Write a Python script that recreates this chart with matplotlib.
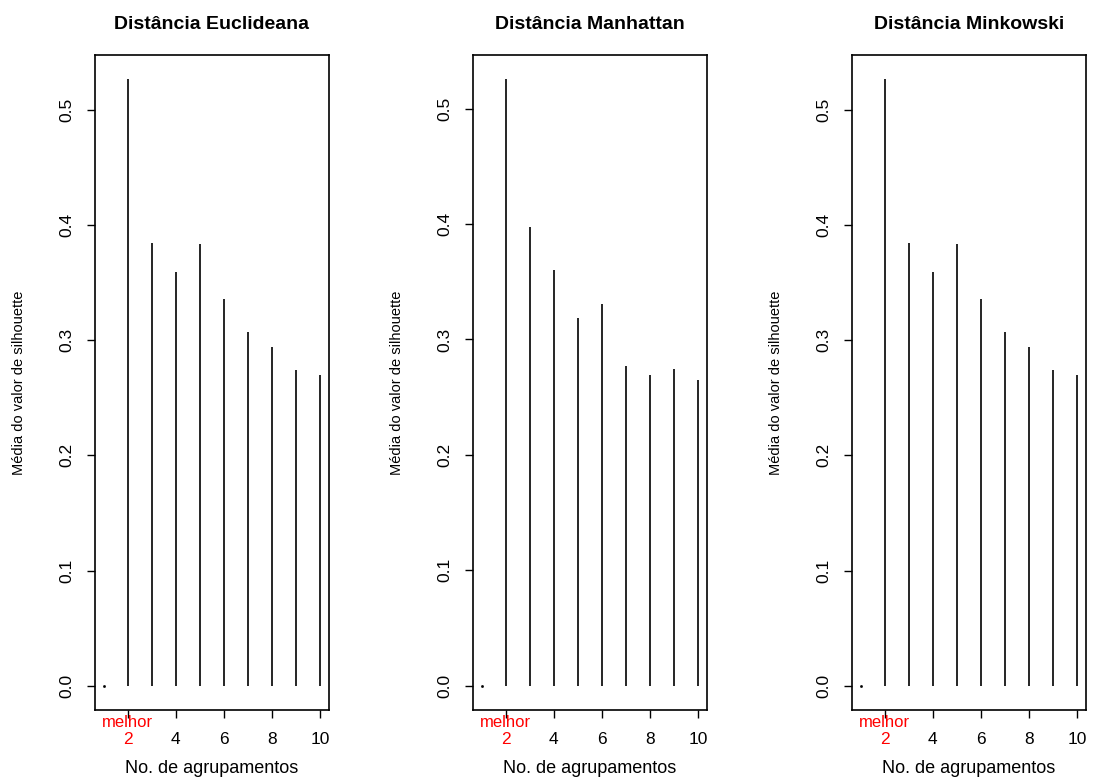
import numpy as np
import matplotlib
matplotlib.use("Agg")
import matplotlib.pyplot as plt

plt.rcParams['font.family'] = ['Liberation Sans', 'DejaVu Sans']

# numero de agrupamentos (k) e largura media da silhouette
k = [1, 2, 3, 4, 5, 6, 7, 8, 9, 10]
sil_euclid = [0.0, 0.5265, 0.3845, 0.3588, 0.3836, 0.3354, 0.3073, 0.2940, 0.2740, 0.2695]
sil_manhat = [0.0, 0.5254, 0.3972, 0.3602, 0.3186, 0.3307, 0.2772, 0.2693, 0.2743, 0.2645]
sil_minkow = [0.0, 0.5265, 0.3845, 0.3588, 0.3836, 0.3354, 0.3073, 0.2940, 0.2740, 0.2695]
titles = ["Distância Euclideana", "Distância Manhattan", "Distância Minkowski"]
series = [sil_euclid, sil_manhat, sil_minkow]
x_ticks = [2, 4, 6, 8, 10]
y_ticks = [0.0, 0.1, 0.2, 0.3, 0.4, 0.5]
best_k = 2

W, H = 1095, 778
fig = plt.figure(figsize=(W / 100, H / 100), dpi=100)

lefts = [95, 473, 852]
for left, title, vals in zip(lefts, titles, series):
    ax = fig.add_axes([left / W, (H - 710) / H, 234 / W, (710 - 55) / H])
    vals = np.array(vals)
    x = np.array(k)
    ax.vlines(x, 0, vals, colors='black', lw=1.2)
    ax.plot(x[vals == 0], vals[vals == 0], 's', color='black', ms=0.9)
    ax.set_xlim(0.64, 10.36)
    top = vals.max()
    ax.set_ylim(-0.04 * top, 1.04 * top)
    ax.set_xticks(x_ticks)
    ax.set_xticklabels([str(t) for t in x_ticks], fontsize=12.5)
    ax.set_yticks(y_ticks)
    ax.set_yticklabels(["%.1f" % t for t in y_ticks], fontsize=12.5, rotation=90, va='center')
    ax.tick_params(axis='both', length=6, width=1.0, direction='out')
    ax.tick_params(axis='x', pad=10)
    ax.tick_params(axis='y', pad=9)
    for lab, t in zip(ax.get_xticklabels(), x_ticks):
        if t == best_k:
            lab.set_color('red')
    for t_line, t in zip(ax.xaxis.get_ticklines(), [tt for tt in x_ticks for _ in (0, 1)]):
        if t == best_k:
            t_line.set_color('red')
    for sp in ax.spines.values():
        sp.set_linewidth(1.2)
    ax.annotate("melhor", xy=(best_k, 0), xycoords=('data', 'axes fraction'),
                xytext=(0, -9), textcoords='offset points', ha='center', va='center',
                color='red', fontsize=12)
    ax.annotate(title, xy=(0.5, 1), xycoords='axes fraction', xytext=(0, 22),
                textcoords='offset points', ha='center', va='center',
                fontsize=14, fontweight='bold')
    ax.annotate("No. de agrupamentos", xy=(0.5, 0), xycoords='axes fraction',
                xytext=(0, -42), textcoords='offset points', ha='center', va='center',
                fontsize=13)
    ax.annotate("Média do valor de silhouette", xy=(0, 0.5), xycoords='axes fraction',
                xytext=(-55, 0), textcoords='offset points', ha='center', va='center',
                rotation=90, fontsize=10.5)

fig.savefig("out.png", dpi=100)
